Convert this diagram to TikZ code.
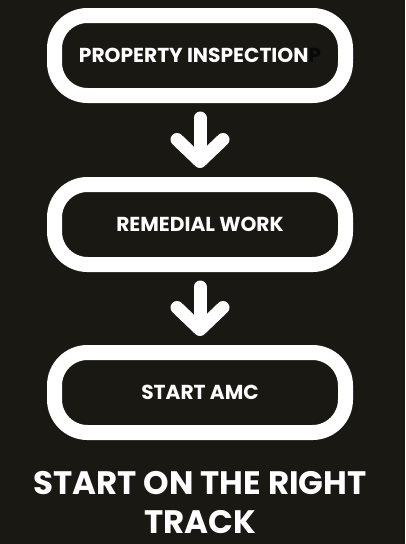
\documentclass[tikz,border=0pt]{standalone}
\usepackage{fontspec}
\setmainfont{Poppins}
\usepackage{xcolor}
\usetikzlibrary{
  positioning,
  arrows.meta
}
\definecolor{bgdark}{RGB}{26,24,19}
\definecolor{shadowp}{RGB}{8,8,6}

\begin{document}
\begin{tikzpicture}[
      x=1pt, y=-1pt,
      stepnode/.style={rectangle, draw=white, fill=bgdark, line width=15pt, rounded corners=33pt, minimum width=291pt, minimum height=80pt, align=center, text=white, font=\bfseries\fontsize{20.2}{23}\selectfont},
      arrow/.style={draw=white, line width=13pt, line cap=round, -{Straight Barb[round, length=22pt, width=46pt]}, shorten <=15pt, shorten >=9pt},
      titlenode/.style={align=center, inner sep=0pt, text=white, font=\bfseries\fontsize{32.5}{39}\selectfont}
    ]
      % Background
      \fill[bgdark] (0,0) rectangle (405,544);
      \useasboundingbox (0,0) rectangle (405,544);

      % Steps
      \node[stepnode] (insp) at (200,55.5) {PROPERTY INSPECTION\textcolor{shadowp}{P}};
      \node[stepnode, below=74pt of insp] (remed) {REMEDIAL WORK};
      \node[stepnode, below=73pt of remed] (amc) {START AMC};

      % Arrows
      \draw[arrow] (insp) -- (remed);
      \draw[arrow] (remed) -- (amc);

      % Title
      \node[titlenode] (title) at (200,503) {START ON THE RIGHT\\TRACK};
    \end{tikzpicture}
\end{document}
